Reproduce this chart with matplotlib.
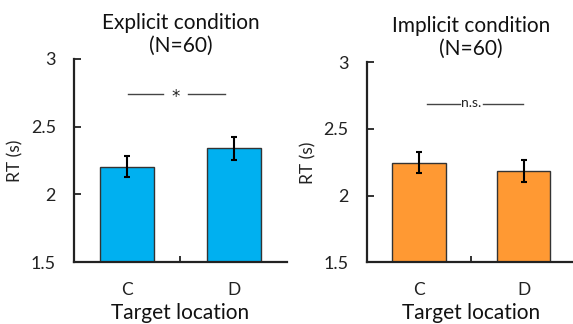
import matplotlib
matplotlib.use("Agg")
import matplotlib.pyplot as plt
from matplotlib.ticker import FixedLocator

plt.rcParams['font.family'] = ['Lato', 'DejaVu Sans']

categories = ["C", "D"]
explicit_means = [2.205, 2.34]
explicit_errs = [0.08, 0.085]
implicit_means = [2.248, 2.185]
implicit_errs = [0.078, 0.085]
yticks = [1.5, 2, 2.5, 3]
ytick_labels = ["1.5", "2", "2.5", "3"]

fig = plt.figure(figsize=(5.73, 3.24), dpi=100)
ax1 = fig.add_axes([0.129, 0.191, 0.372, 0.627])
ax2 = fig.add_axes([0.640, 0.190, 0.365, 0.618])

def style(ax, means, errs, color, title):
    x = list(range(len(categories)))
    ax.bar(x, means, width=0.51, color=color, edgecolor="#333333", linewidth=1.0, zorder=2)
    ax.errorbar(x, means, yerr=errs, fmt="none", ecolor="black", elinewidth=1.5,
                capsize=2.5, capthick=1.5, zorder=3)
    ax.set_xlim(-0.5, 1.5)
    ax.set_ylim(1.5, 3)
    ax.set_yticks(yticks)
    ax.set_yticklabels(ytick_labels, fontsize=13, color="#222222")
    ax.set_xticks(x)
    ax.set_xticklabels(categories, fontsize=12.5, color="#222222")
    ax.tick_params(axis="x", which="major", length=0, pad=14)
    ax.xaxis.set_minor_locator(FixedLocator([0.5]))
    ax.tick_params(axis="x", which="minor", direction="in", length=4, width=1.3, color="#222222")
    ax.tick_params(axis="y", direction="in", length=5, width=1.3, pad=13, color="#222222")
    for s in ["top", "right"]:
        ax.spines[s].set_visible(False)
    for s in ["left", "bottom"]:
        ax.spines[s].set_linewidth(1.6)
        ax.spines[s].set_color("#222222")
    ax.set_ylabel("RT (s)", fontsize=12.5, labelpad=5, color="#222222")
    ax.set_xlabel("Target location", fontsize=15, labelpad=4, color="#111111")
    ax.set_title(title, fontsize=15, pad=5, color="#111111", linespacing=1.2)

style(ax1, explicit_means, explicit_errs, "#00B0F0", "Explicit condition\n(N=60)")
style(ax2, implicit_means, implicit_errs, "#FF9933", "Implicit condition\n(N=60)")

# significance markers
ax1.plot([0.01, 0.34], [2.74, 2.74], color="#444444", lw=1.0)
ax1.plot([0.57, 0.92], [2.74, 2.74], color="#444444", lw=1.0)
ax1.text(0.455, 2.72, "*", ha="center", va="center", fontsize=12,
         family="DejaVu Sans", color="#222222")

ax2.plot([0.08, 0.39], [2.69, 2.69], color="#444444", lw=1.0)
ax2.plot([0.61, 0.99], [2.69, 2.69], color="#444444", lw=1.0)
ax2.text(0.5, 2.695, "n.s.", ha="center", va="center", fontsize=10, color="#222222")

fig.savefig("out.png", dpi=100)
